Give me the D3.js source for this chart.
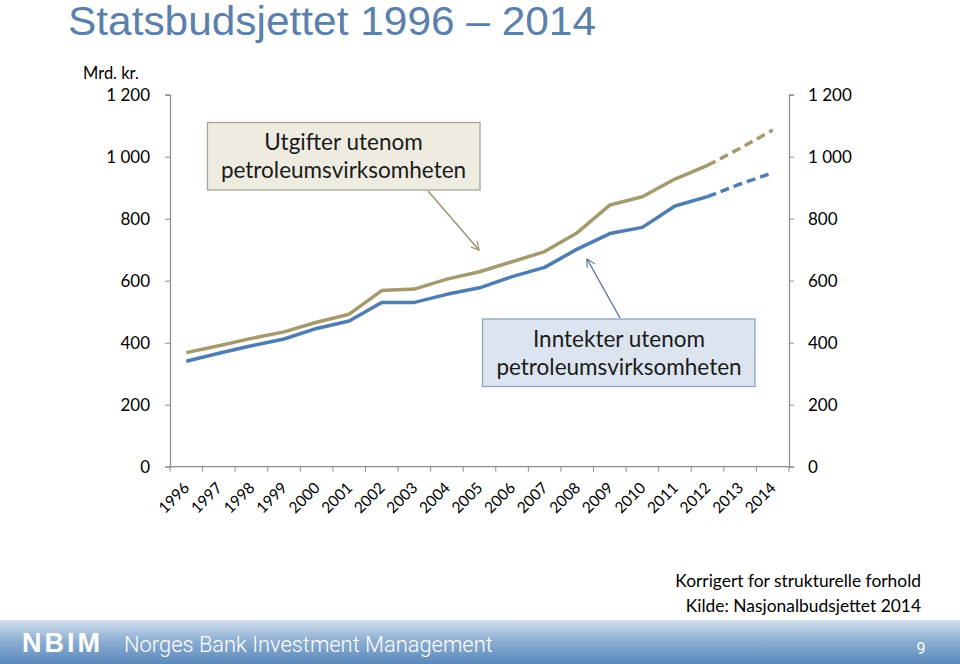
<!DOCTYPE html>
<html>
<head>
<meta charset="utf-8">
<script src="https://cdn.jsdelivr.net/npm/d3@7"></script>
<style>
  html, body { margin: 0; padding: 0; background: #fff; }
  svg { display: block; }
  text { font-family: Lato, "Open Sans", sans-serif; }
</style>
</head>
<body>
<svg id="chart" width="960" height="664"></svg>
<script>
const years = ["1996","1997","1998","1999","2000","2001","2002","2003","2004","2005","2006","2007","2008","2009","2010","2011","2012","2013","2014"];
const utgifter = [368, 390, 414, 435, 466, 492, 568, 573, 605, 629, 661, 694, 755, 844, 871, 928, 972, 1027, 1086];
const inntekter = [340, 366, 390, 412, 446, 470, 530, 530, 556, 577, 613, 643, 702, 752, 772, 841, 871, 912, 948];
const forecastFrom = "2012";
const yTicks = [0, 200, 400, 600, 800, 1000, 1200];
const labelUtgifter = ["Utgifter utenom", "petroleumsvirksomheten"];
const labelInntekter = ["Inntekter utenom", "petroleumsvirksomheten"];

const svg = d3.select("#chart");
const W = 960, H = 664;
const pLeft = 170, pRight = 789, pTop = 94.7, pBottom = 466.7;

const x = d3.scaleBand().domain(years).range([pLeft, pRight]).padding(0);
const y = d3.scaleLinear().domain([0, 1200]).range([pBottom, pTop]);
const cx = d => x(d) + x.bandwidth() / 2;

const defs = svg.append("defs");
const grad = defs.append("linearGradient").attr("id", "footer").attr("x1", 0).attr("y1", 0).attr("x2", 0).attr("y2", 1);
grad.append("stop").attr("offset", "0%").attr("stop-color", "#d3e0ee");
grad.append("stop").attr("offset", "45%").attr("stop-color", "#8fb0d3");
grad.append("stop").attr("offset", "100%").attr("stop-color", "#5a89bb");

function marker(id, color) {
  defs.append("marker").attr("id", id).attr("viewBox", "0 0 10 10").attr("refX", 9).attr("refY", 5)
    .attr("markerWidth", 9).attr("markerHeight", 9).attr("markerUnits", "userSpaceOnUse").attr("orient", "auto")
    .append("path").attr("d", "M0,0 L9,5 L0,10").attr("fill", "none").attr("stroke", color).attr("stroke-width", 1.3);
}
marker("arrGold", "#9b9068");
marker("arrBlue", "#5878a0");

svg.append("text").attr("x", 68).attr("y", 35).attr("fill", "#5a80ab")
  .style("font-family", "'Liberation Sans', Arial, sans-serif").style("font-size", "40px")
  .attr("textLength", 528).attr("lengthAdjust", "spacingAndGlyphs")
  .text("Statsbudsjettet 1996 – 2014");

svg.append("text").attr("x", 83).attr("y", 79).attr("fill", "#000").style("font-size", "16.5px").text("Mrd. kr.");

const axisColor = "#8c8c8c";
const fmt = d => d3.format(",")(d).replace(",", " ");
const yl = svg.append("g").attr("transform", `translate(${pLeft},0)`)
  .call(d3.axisLeft(y).tickValues(yTicks).tickSize(5).tickPadding(15).tickFormat(fmt));
const yr = svg.append("g").attr("transform", `translate(${pRight},0)`)
  .call(d3.axisRight(y).tickValues(yTicks).tickSize(5).tickPadding(14).tickFormat(fmt));
[yl, yr].forEach(g => {
  g.select(".domain").attr("stroke", axisColor).attr("stroke-width", 1.2);
  g.selectAll(".tick line").attr("stroke", axisColor);
  g.selectAll(".tick text").attr("fill", "#000").style("font-size", "17px").style("font-family", "Lato, sans-serif");
});

const xg = svg.append("g");
xg.append("line").attr("x1", pLeft).attr("x2", pRight).attr("y1", y(0)).attr("y2", y(0)).attr("stroke", axisColor).attr("stroke-width", 1.2);
const bounds = years.map(d => x(d)).concat([pRight]);
xg.selectAll(".xt").data(bounds).enter().append("line")
  .attr("x1", d => d).attr("x2", d => d).attr("y1", y(0)).attr("y2", y(0) + 5).attr("stroke", axisColor);
xg.selectAll(".xl").data(years).enter().append("text")
  .attr("transform", d => `translate(${cx(d) - 3.5},${y(0) + 14.5}) rotate(-45)`)
  .attr("text-anchor", "end").attr("dy", "0.7em").style("font-size", "15.5px").attr("fill", "#000")
  .text(d => d);

const line = d3.line().x(d => cx(d.year)).y(d => y(d.v));
const idx = years.indexOf(forecastFrom);
function drawSeries(vals, color) {
  const pts = years.map((yv, i) => ({ year: yv, v: vals[i] }));
  svg.append("path").datum(pts.slice(0, idx + 1)).attr("d", line)
    .attr("fill", "none").attr("stroke", color).attr("stroke-width", 3.5).attr("stroke-linejoin", "round");
  svg.append("path").datum(pts.slice(idx)).attr("d", line)
    .attr("fill", "none").attr("stroke", color).attr("stroke-width", 3.5).attr("stroke-dasharray", "9,5");
}
drawSeries(utgifter, "#a39b6e");
drawSeries(inntekter, "#4e7db1");

function box(x0, y0, w, h, fill, stroke, lines, cxT, ys) {
  svg.append("rect").attr("x", x0).attr("y", y0).attr("width", w).attr("height", h)
    .attr("fill", fill).attr("stroke", stroke).attr("stroke-width", 1.3);
  lines.forEach((t, i) => svg.append("text").attr("x", cxT).attr("y", ys[i]).attr("text-anchor", "middle")
    .style("font-size", "22.5px").attr("fill", "#1a1a1a").text(t));
}
box(207.5, 122.5, 272.5, 67.5, "#eeece1", "#a6a597", labelUtgifter, 343.5, [150, 178]);
svg.append("line").attr("x1", 428).attr("y1", 191).attr("x2", 479).attr("y2", 250)
  .attr("stroke", "#9b9068").attr("stroke-width", 1.4).attr("marker-end", "url(#arrGold)");

box(482.5, 319, 272.5, 67.5, "#dce4f0", "#8aa3c6", labelInntekter, 619, [347, 375]);
svg.append("line").attr("x1", 620).attr("y1", 318).attr("x2", 587).attr("y2", 259)
  .attr("stroke", "#5878a0").attr("stroke-width", 1.4).attr("marker-end", "url(#arrBlue)");

svg.append("text").attr("x", 921).attr("y", 587).attr("text-anchor", "end").style("font-size", "17.4px").attr("fill", "#000")
  .text("Korrigert for strukturelle forhold");
svg.append("text").attr("x", 921).attr("y", 612).attr("text-anchor", "end").style("font-size", "17.4px").attr("fill", "#000")
  .text("Kilde: Nasjonalbudsjettet 2014");

svg.append("rect").attr("x", 0).attr("y", 620).attr("width", W).attr("height", 44).attr("fill", "url(#footer)");
svg.append("text").attr("x", 22).attr("y", 652).attr("fill", "#fff")
  .style("font-family", "'Liberation Sans', Arial, sans-serif").style("font-weight", "bold").style("font-size", "27px")
  .style("letter-spacing", "3px").text("NBIM");
svg.append("text").attr("x", 124).attr("y", 652).attr("fill", "#fff")
  .style("font-family", "Roboto, sans-serif").style("font-weight", 300).style("font-size", "21.9px")
  .text("Norges Bank Investment Management");
svg.append("text").attr("x", 921).attr("y", 654).attr("text-anchor", "middle").attr("fill", "#fff")
  .style("font-family", "Roboto, sans-serif").style("font-size", "16px").text("9");
</script>
</body>
</html>
